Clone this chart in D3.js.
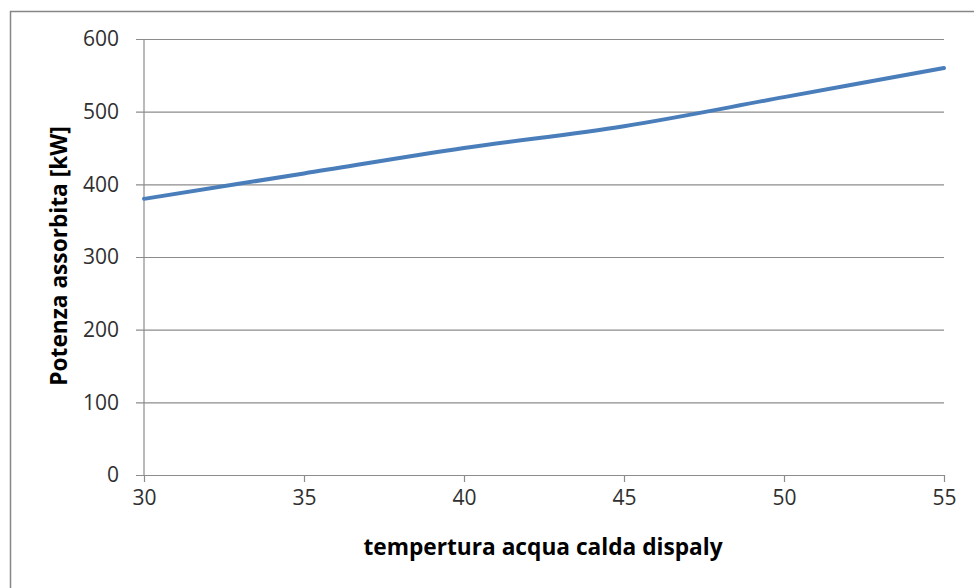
<!DOCTYPE html>
<html>
<head>
<meta charset="utf-8">
<script src="https://cdn.jsdelivr.net/npm/d3@7"></script>
<style>
  body { margin: 0; background: #fff; }
  svg { display: block; font-family: "Open Sans", sans-serif; }
</style>
</head>
<body>
<div id="chart"></div>
<script>
// temperatura acqua calda [°C]
var temps = [30, 35, 40, 45, 50, 55]
// potenza assorbita [kW]
var power = [380, 415, 450, 480, 520, 560]

var xTicks = [30, 35, 40, 45, 50, 55]
var yTicks = [0, 100, 200, 300, 400, 500, 600]

var xTitle = "tempertura acqua calda dispaly"
var yTitle = "Potenza assorbita [kW]"

var W = 974, H = 588
var margin = {top: 39, right: 30, bottom: 113, left: 144},
    width = W - margin.left - margin.right,
    height = H - margin.top - margin.bottom;

var svg = d3.select("#chart")
  .append("svg")
    .attr("width", W)
    .attr("height", H)

// chart frame
svg.append("rect")
    .attr("x", 10.5)
    .attr("y", 11.5)
    .attr("width", W)
    .attr("height", H)
    .attr("fill", "none")
    .attr("stroke", "#868686")
    .attr("stroke-width", 1.5)

var g = svg.append("g")
    .attr("transform", "translate(" + margin.left + "," + margin.top + ")")

var x = d3.scaleLinear()
    .domain([30, 55])
    .range([0, width])

var y = d3.scaleLinear()
    .domain([0, 600])
    .range([height, 0])

// y axis with gridlines
var yAxis = g.append("g")
    .call(d3.axisLeft(y).tickValues(yTicks).tickSize(-width).tickPadding(25))
yAxis.select(".domain").remove()
yAxis.selectAll(".tick line")
    .attr("x1", -8)
    .attr("stroke", "#8c8c8c")
    .attr("stroke-width", 1.2)
yAxis.selectAll(".tick text")
    .attr("fill", "#303030")
    .style("font-family", "'Open Sans', sans-serif")
    .style("font-size", "21px")

// vertical axis line
g.append("line")
    .attr("x1", 0).attr("x2", 0)
    .attr("y1", 0).attr("y2", height)
    .attr("stroke", "#8c8c8c")
    .attr("stroke-width", 1.2)

// x axis
var xAxis = g.append("g")
    .attr("transform", "translate(0," + height + ")")
    .call(d3.axisBottom(x).tickValues(xTicks).tickSize(7).tickPadding(8))
xAxis.select(".domain")
    .attr("stroke", "#8c8c8c")
    .attr("stroke-width", 1.2)
    .attr("d", "M0,0.5H" + width)
xAxis.selectAll(".tick line")
    .attr("stroke", "#8c8c8c")
    .attr("stroke-width", 1.2)
xAxis.selectAll(".tick text")
    .attr("fill", "#303030")
    .style("font-family", "'Open Sans', sans-serif")
    .style("font-size", "21px")

// the line
var line = d3.line()
    .x(function(d, i) { return x(temps[i]) })
    .y(function(d) { return y(d) })
    .curve(d3.curveCardinal.tension(0))

g.append("path")
    .datum(power)
    .attr("d", line)
    .attr("fill", "none")
    .attr("stroke", "#4a7ebb")
    .attr("stroke-width", 4)
    .attr("stroke-linecap", "round")

// axis titles
g.append("text")
    .attr("text-anchor", "middle")
    .attr("x", width / 2 - 1)
    .attr("y", height + 80)
    .attr("fill", "#000")
    .style("font-size", "22.7px")
    .style("font-weight", "bold")
    .text(xTitle)

g.append("text")
    .attr("text-anchor", "middle")
    .attr("transform", "translate(" + (-77) + "," + (height / 2 - 1) + ") rotate(-90)")
    .attr("fill", "#000")
    .style("font-size", "22.7px")
    .style("font-weight", "bold")
    .text(yTitle)
</script>
</body>
</html>
